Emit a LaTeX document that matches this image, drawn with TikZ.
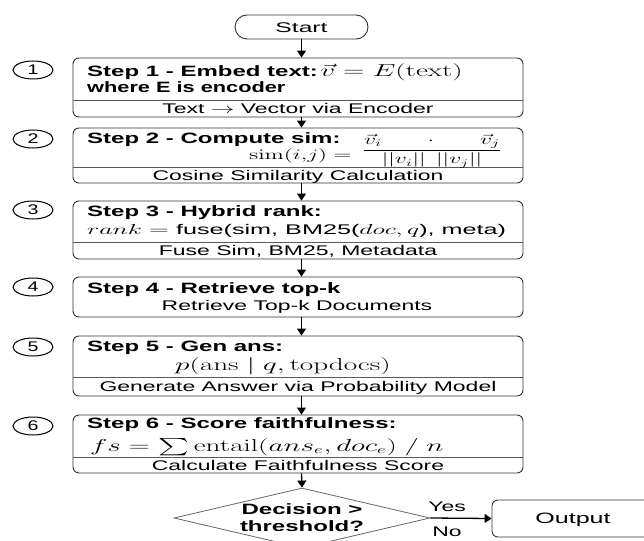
\documentclass[tikz,border=0pt]{standalone}
\usepackage{amsmath}
\usepackage[no-math]{fontspec}
\setmainfont{Liberation Sans}
\usepackage{graphicx}
\usetikzlibrary{arrows.meta,shapes.geometric}
\newcommand{\stxH}[1]{\scalebox{1.6}[1]{#1}}
\newcommand{\stxB}[1]{\scalebox{1.64}[1]{#1}}
\newcommand{\stxM}[1]{\scalebox{1.69}[1]{#1}}
\newcommand{\headfont}{\fontsize{15}{16}\selectfont\bfseries}
\newcommand{\bodyfont}{\fontsize{14}{15}\selectfont}
\newcommand{\bigmfont}{\fontsize{16}{17}\selectfont}
\tikzset{
  box/.style={draw=black!80, line width=0.9pt, rounded corners=6pt, inner sep=0pt},
  divl/.style={draw=black!65, line width=0.6pt},
  arr/.style={draw=black, line width=1.3pt, -{Triangle[width=9pt,length=7pt]}},
  lt/.style={anchor=base west, inner sep=0pt},
  ct/.style={anchor=base, inner sep=0pt},
  num/.style={ellipse, draw=black, line width=1pt, minimum width=40pt, minimum height=18pt, inner sep=0pt},
}
\begin{document}
\begin{tikzpicture}[x=1pt,y=-1pt]
\fill[white] (0,0) rectangle (644,540);
\useasboundingbox (0,0) rectangle (644,540);
\clip (0,0) rectangle (644,540);

% Start
\node[box, rounded corners=12pt, minimum width=133pt, minimum height=24pt] (start) at (301.5,27) {};
\node[ct] (startT) at (301.5,32.5) {\bodyfont\scalebox{1.76}[1]{Start}};

% Box 1
\node[box, minimum width=450pt, minimum height=59pt] (b1) at (298,87.5) {};
\draw[divl] (73,100) -- (523,100);
\node[lt] (t1a) at (87,77) {\headfont\stxH{Step 1 - Embed text:}\,\bigmfont\stxM{$\vec{v} = E(\mathrm{text})$}};
\node[lt] (t1b) at (87,93) {\headfont\scalebox{1.45}[1]{where E is encoder}};
\node[ct] (t1c) at (298,113.5) {\bodyfont\stxB{Text $\rightarrow$ Vector via Encoder}};

% Box 2
\node[box, minimum width=450pt, minimum height=55pt] (b2) at (298,155.5) {};
\draw[divl] (73,167) -- (523,167);
\node[lt] (t2a) at (87,144) {\headfont\stxH{Step 2 - Compute sim:}};
\node[anchor=east, inner sep=0pt] (t2f) at (502,151) {\bodyfont\stxB{$\dfrac{\vec{v}_i \qquad{\cdot}\qquad \vec{v}_j}{||v_i||\;\,||v_j||}$}};
\node[anchor=base east, inner sep=0pt] (t2s) at ([xshift=-10pt]t2f.west |- 0,159) {\bodyfont\stxB{$\mathrm{sim}(i,\!j) =$}};
\node[ct] (t2c) at (298,180.5) {\bodyfont\stxB{Cosine Similarity Calculation}};

% Box 3
\node[box, minimum width=450pt, minimum height=58pt] (b3) at (298,230) {};
\draw[divl] (73,242) -- (523,242);
\node[lt] (t3a) at (87,216) {\headfont\stxH{Step 3 - Hybrid rank:}};
\node[lt] (t3b) at (87,234) {\bodyfont\scalebox{1.8}[1]{$rank = {}$fuse(sim, BM25($doc,q$), meta)}};
\node[ct] (t3c) at (298,255.5) {\bodyfont\stxB{Fuse Sim, BM25, Metadata}};

% Box 4
\node[box, minimum width=450pt, minimum height=40pt] (b4) at (298,297) {};
\node[lt] (t4a) at (87,293) {\headfont\stxH{Step 4 - Retrieve top-k}};
\node[ct] (t4b) at (297,310.5) {\bodyfont\stxB{Retrieve Top-k Documents}};

% Box 5
\node[box, minimum width=450pt, minimum height=60pt] (b5) at (298,366) {};
\draw[divl] (73,377) -- (523,377);
\node[lt] (t5a) at (87,351) {\headfont\stxH{Step 5 - Gen ans:}};
\node[ct] (t5b) at (283,370) {\bigmfont\stxM{$p(\mathrm{ans}\mid q,\mathrm{topdocs})$}};
\node[ct] (t5c) at (298,391.5) {\bodyfont\stxB{Generate Answer via Probability Model}};

% Box 6
\node[box, minimum width=450pt, minimum height=58pt] (b6) at (298,444) {};
\draw[divl] (73,457) -- (523,457);
\node[lt] (t6a) at (87,428) {\headfont\stxH{Step 6 - Score faithfulness:}};
\node[lt] (t6b) at (90,451) {\bigmfont\stxM{$fs = {\textstyle\sum}\, \mathrm{entail}(ans_e, doc_e)\ /\ n$}};
\node[ct] (t6c) at (298,470.5) {\bodyfont\stxB{Calculate Faithfulness Score}};

% Decision
\node[diamond, draw=black!60, line width=0.8pt, minimum width=256pt, minimum height=60pt, inner sep=0pt] (dec) at (302,518) {};
\node[ct] (decA) at (302,514) {\headfont\stxH{Decision >}};
\node[ct] (decB) at (302,531) {\headfont\stxH{threshold?}};

% Output
\node[box, minimum width=180pt, minimum height=37pt] (out) at (582,518.5) {};
\node[ct] (outT) at (573,523.5) {\fontsize{15}{16}\selectfont\scalebox{1.67}[1]{Output}};
\node[ct] (yes) at (447,511) {\bodyfont\stxB{Yes}};
\node[ct] (no) at (447,536) {\bodyfont\stxB{No}};

% Numbers
\node[num] (c1) at (33,70) {\bodyfont\scalebox{1.4}[1]{1}};
\node[num] (c2) at (33,139) {\bodyfont\scalebox{1.4}[1]{2}};
\node[num] (c3) at (33,210) {\bodyfont\scalebox{1.4}[1]{3}};
\node[num] (c4) at (33,287) {\bodyfont\scalebox{1.4}[1]{4}};
\node[num] (c5) at (33,347) {\bodyfont\scalebox{1.4}[1]{5}};
\node[num] (c6) at (33,426) {\bodyfont\scalebox{1.4}[1]{6}};

% Arrows
\draw[arr] (start.south) -- (start.south |- b1.north);
\draw[arr] (b1.south -| start.south) -- (b2.north -| start.south);
\draw[arr] (b2.south -| start.south) -- (b3.north -| start.south);
\draw[arr] (b3.south -| start.south) -- (b4.north -| start.south);
\draw[arr] (b4.south -| start.south) -- (b5.north -| start.south);
\draw[arr] (b5.south -| start.south) -- (b6.north -| start.south);
\draw[arr] (b6.south -| start.south) -- (dec.north);
\draw[arr] (dec.east) -- (out.west);
\end{tikzpicture}
\end{document}
